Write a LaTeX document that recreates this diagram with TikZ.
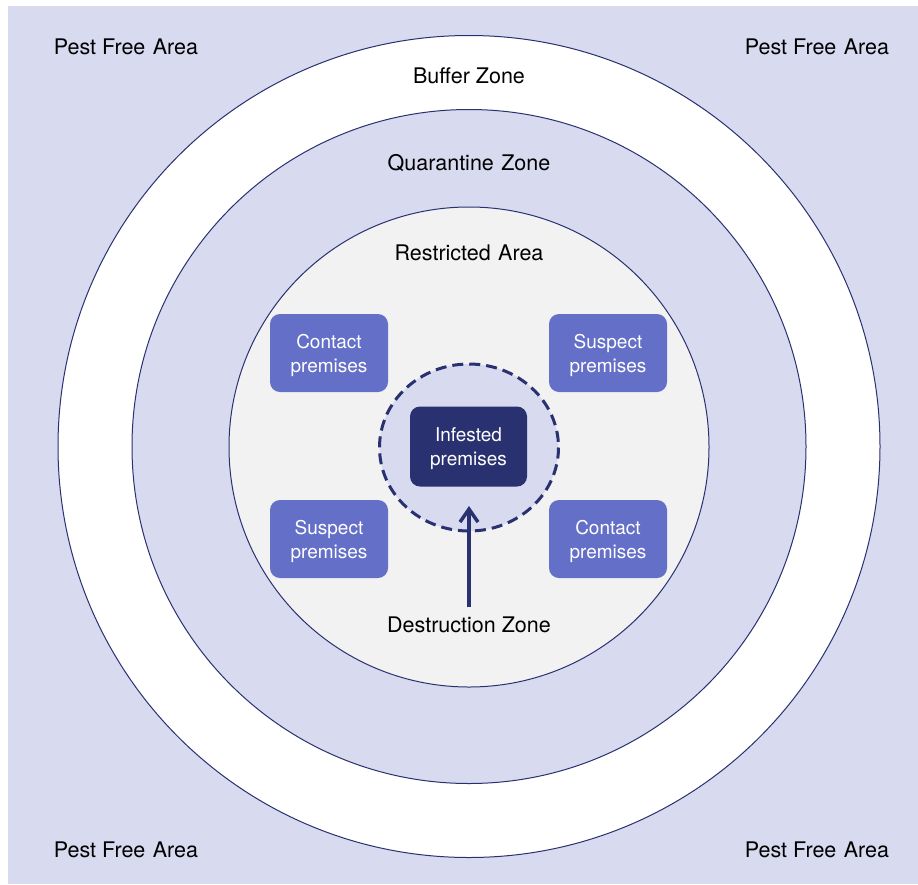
\documentclass[tikz,border=0pt]{standalone}
\usepackage{fontspec}
\setmainfont{TeX Gyre Heros}
\usetikzlibrary{arrows.meta}
\definecolor{lav}{RGB}{216,218,240}
\definecolor{navy}{RGB}{42,49,112}
\definecolor{mid}{RGB}{100,112,200}
\definecolor{lgray}{RGB}{242,242,242}
\tikzset{
  zone/.style={draw=navy, line width=1pt},
  lbl/.style={font=\fontsize{21.5}{26}\selectfont, text=black, inner sep=0pt},
  prem/.style={fill=mid, rounded corners=10pt, minimum width=118pt, minimum height=78pt, inner sep=0pt},
  inf/.style={fill=navy, rounded corners=10pt, minimum width=117pt, minimum height=80pt, inner sep=0pt},
  ptxt/.style={text=white, align=center, font=\fontsize{19}{24}\selectfont, inner sep=0pt}
}
\newcommand{\gsp}{\ \kern1.5pt}
\begin{document}
\begin{tikzpicture}[x=1pt,y=-1pt]
\useasboundingbox (0,0) rectangle (918,884);
\fill[white] (0,0) rectangle (918,884);
\fill[lav] (8,6) rectangle (918,884);
\filldraw[zone, fill=white] (469,446.5) circle (411);
\filldraw[zone, fill=lav] (469,446.5) circle (337);
\filldraw[zone, fill=lgray] (469,447) circle (240);
\filldraw[draw=navy, fill=lav, line width=3pt, dash pattern=on 11pt off 6pt] (469,447.5) ellipse [x radius=89.5, y radius=83.5];
\node[inf] (inf) at (468.5,446.5) {};
\node[prem] (c1) at (329,353) {};
\node[prem] (s1) at (608,353) {};
\node[prem] (s2) at (329,539) {};
\node[prem] (c2) at (608,539) {};
\node[ptxt] (inft) at ([yshift=-2.5pt]inf.center) {Infested\\premises};
\node[ptxt] (c1t) at ([yshift=-2.5pt]c1.center) {Contact\\premises};
\node[ptxt] (s1t) at ([yshift=-2.5pt]s1.center) {Suspect\\premises};
\node[ptxt] (s2t) at ([yshift=-2.5pt]s2.center) {Suspect\\premises};
\node[ptxt] (c2t) at ([yshift=-2.5pt]c2.center) {Contact\\premises};
\node[lbl] (pf1) at (126,46.5) {Pest Free\gsp Area};
\node[lbl] (pf2) at (817,46.5) {Pest Free\gsp Area};
\node[lbl] (pf3) at (126,849.5) {Pest Free\gsp Area};
\node[lbl] (pf4) at (817,849.5) {Pest Free\gsp Area};
\node[lbl] (bz) at (469,75.5) {Buffer Zone};
\node[lbl] (qz) at (469,163.5) {Quarantine\gsp Zone};
\node[lbl] (ra) at (469,252.5) {Restricted\gsp Area};
\node[lbl] (dz) at (469,624.5) {Destruction Zone};
\coordinate (tip) at (469,506);
\draw[navy, line width=4pt, -{Straight Barb[length=13pt, width=18pt, line width=3.5pt]}] ([yshift=9pt]dz.north) -- (tip);
\end{tikzpicture}
\end{document}
